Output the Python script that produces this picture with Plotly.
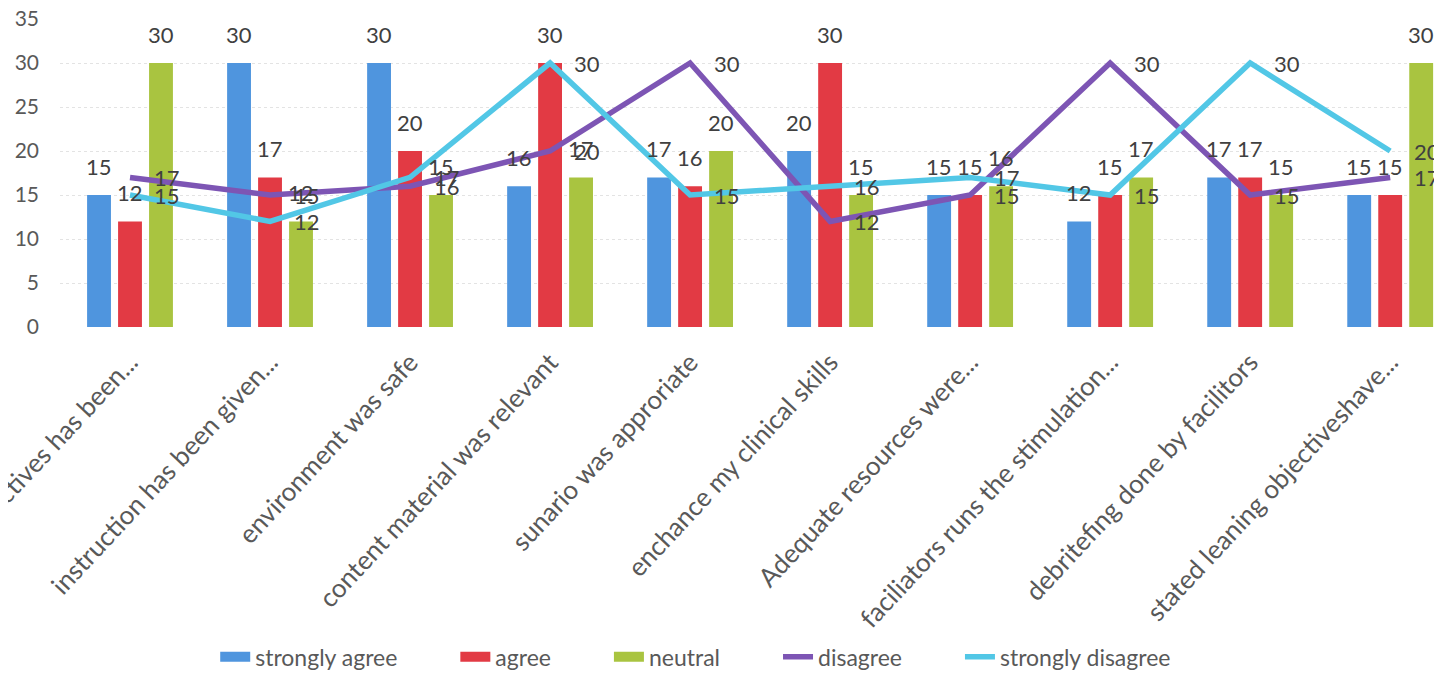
import plotly.graph_objects as go

categories = [
    "objectives has been...",
    "instruction has been given...",
    "environment was safe",
    "content material was relevant",
    "sunario was approriate",
    "enchance my clinical skills",
    "Adequate resources were...",
    "faciliators runs the stimulation...",
    "debritefing done by facilitors",
    "stated leaning objectiveshave...",
]
strongly_agree = [15, 30, 30, 16, 17, 20, 15, 12, 17, 15]
agree = [12, 17, 20, 30, 16, 30, 15, 15, 17, 15]
neutral = [30, 12, 15, 17, 20, 15, 16, 17, 15, 30]
disagree = [17, 15, 16, 20, 30, 12, 15, 30, 15, 17]
strongly_disagree = [15, 12, 17, 30, 15, 16, 17, 15, 30, 20]
y_ticks = [0, 5, 10, 15, 20, 25, 30, 35]
series_names = ["strongly agree", "agree", "neutral", "disagree", "strongly disagree"]

FONT = "Lato, 'Open Sans', sans-serif"
LABEL_COLOR = "#404040"
AXIS_COLOR = "#595959"
PAD = "\u00a0" * 9

W, H = 1434, 663
ML, MR, MT, MB = 52, 0, 11, 344
X_RANGE = [-0.5, 9.37]
BARGAP = 0.336
cat_px = (W - ML - MR) / (X_RANGE[1] - X_RANGE[0])
slot_px = (1 - BARGAP) * cat_px / 3

fig = go.Figure()
bar_specs = [
    (series_names[0], strongly_agree, "#4F95DE", -slot_px),
    (series_names[1], agree, "#E23A44", 0),
    (series_names[2], neutral, "#A9C440", slot_px),
]
line_specs = [
    (series_names[3], disagree, "#7D55B4"),
    (series_names[4], strongly_disagree, "#52C7E6"),
]

# legend swatches (wide rectangles like the reference)
for name, vals, color, shift in bar_specs:
    fig.add_trace(go.Scatter(
        x=[None], y=[None], name=name + PAD, mode="lines",
        line=dict(color=color, width=12), legendgroup=name, showlegend=True,
        hoverinfo="skip",
    ))

annotations = []
for name, vals, color, shift in bar_specs:
    fig.add_trace(go.Bar(
        x=categories, y=vals, name=name, legendgroup=name, showlegend=False,
        marker=dict(color=color, line=dict(width=0)),
    ))
    for c, v in zip(categories, vals):
        annotations.append(dict(
            x=c, y=v, text=str(v), showarrow=False, xref="x", yref="y",
            xanchor="center", yanchor="middle", xshift=shift, yshift=29,
            font=dict(family=FONT, size=22, color=LABEL_COLOR),
        ))

for i, (name, vals, color) in enumerate(line_specs):
    fig.add_trace(go.Scatter(
        x=categories, y=vals, name=name + (PAD if i == 0 else ""), mode="lines",
        line=dict(color=color, width=5.5),
        cliponaxis=False,
    ))
    for c, v in zip(categories, vals):
        annotations.append(dict(
            x=c, y=v, text=str(v), showarrow=False, xref="x", yref="y",
            xanchor="left", yanchor="middle", xshift=22, yshift=0,
            font=dict(family=FONT, size=22, color=LABEL_COLOR),
        ))

fig.update_layout(
    width=W, height=H,
    margin=dict(l=ML, r=MR, t=MT, b=MB, autoexpand=False),
    paper_bgcolor="white", plot_bgcolor="white",
    barmode="group", bargap=BARGAP, bargroupgap=0.23,
    font=dict(family=FONT, color=AXIS_COLOR),
    showlegend=True,
    annotations=annotations,
    legend=dict(
        orientation="h", x=0.46, xanchor="center", y=-1.071, yanchor="middle",
        font=dict(family=FONT, size=23, color=AXIS_COLOR),
        itemwidth=30, tracegroupgap=0, bgcolor="rgba(0,0,0,0)",
    ),
    xaxis=dict(
        type="category", categoryorder="array", categoryarray=categories,
        range=X_RANGE, tickangle=-47, showgrid=False, zeroline=False,
        tickfont=dict(family=FONT, size=26, color=AXIS_COLOR),
        showline=False, ticks="", ticklabelstandoff=14, automargin=False,
    ),
    yaxis=dict(
        range=[0, 35], tickvals=y_ticks, showgrid=True,
        gridcolor="#E3E3E3", griddash="dot", gridwidth=1, zeroline=False,
        tickfont=dict(family=FONT, size=21, color=AXIS_COLOR),
        ticks="", ticklabelstandoff=20, automargin=False,
        ticklabeloverflow="allow",
    ),
)

fig.write_html("out.html")
